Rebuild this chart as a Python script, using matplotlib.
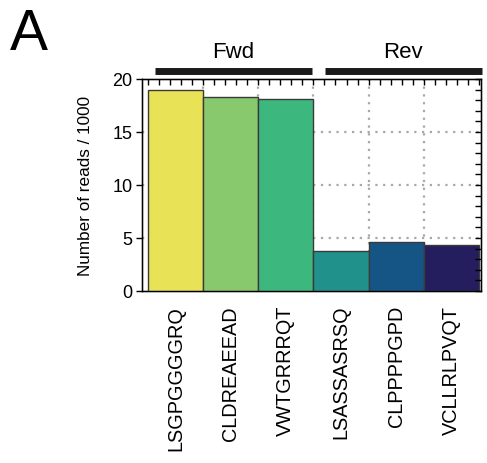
import matplotlib
matplotlib.use("Agg")
import matplotlib.pyplot as plt
import matplotlib.transforms as mtransforms
import numpy as np

plt.rcParams['font.family'] = ['Liberation Sans', 'DejaVu Sans']

categories = ["LSGPGGGGRQ", "CLDREAEEAD", "VWTGRRRQT", "LSASSASRSQ", "CLPPPPGPD", "VCLLRLPVQT"]
reads_k = [19.0, 18.27, 18.08, 3.74, 4.65, 4.37]
bar_colors = ["#e8e257", "#88c96d", "#3cb87e", "#21918c", "#145585", "#241d5e"]
groups = ["Fwd", "Rev"]
group_spans = [(-0.38, 2.47), (2.71, 5.55)]
y_ticks = [0, 5, 10, 15, 20]

fig = plt.figure(figsize=(4.87, 4.64), dpi=100)
ax = fig.add_axes([0.2916, 0.3707, 0.6961, 0.4569])

x = np.arange(len(categories))
ax.bar(x, reads_k, width=1.0, color=bar_colors, edgecolor="#3a3a3a", linewidth=1.0, zorder=3)

ax.set_xlim(-0.61, 5.54)
ax.set_ylim(0, 20)

# grid
for gx in np.arange(0.5, 5.0, 1.0):
    ax.axvline(gx, color="#a8a8a8", linestyle=(0, (1, 2.5)), linewidth=1.6, zorder=1)
for gy in [5, 10, 15]:
    ax.axhline(gy, color="#a8a8a8", linestyle=(0, (1, 2.5)), linewidth=1.6, zorder=1)

ax.set_xticks(x)
ax.set_xticklabels(categories, rotation=90, fontsize=14.3)
ax.set_yticks(y_ticks)
ax.set_yticklabels([str(v) for v in y_ticks], fontsize=13)
ax.tick_params(axis='x', direction='in', length=5, width=1, pad=10)
ax.tick_params(axis='y', direction='out', length=4, width=1, pad=3)
ax.set_ylabel("Number of reads / 1000", fontsize=12.3, labelpad=14)

for s in ax.spines.values():
    s.set_linewidth(1.0)

# top minor ticks
axt = ax.twiny()
axt.set_xlim(ax.get_xlim())
axt.set_xticks(np.arange(-0.5, 5.51, 0.2))
axt.set_xticklabels([])
axt.tick_params(axis='x', direction='in', length=4, width=1)

# right minor ticks
axr = ax.twinx()
axr.set_ylim(ax.get_ylim())
axr.set_yticks(np.arange(0, 20.1, 1))
axr.set_yticklabels([])
axr.tick_params(axis='y', direction='in', length=4, width=1)

# group bars
trans = mtransforms.blended_transform_factory(ax.transData, ax.transAxes)
for name, (x0, x1) in zip(groups, group_spans):
    ax.plot([x0, x1], [1.038, 1.038], color="#1a1a1a", linewidth=5, solid_capstyle='butt',
            transform=trans, clip_on=False)
    ax.text((x0 + x1) / 2, 1.08, name, fontsize=16, ha='center', va='bottom', transform=trans)

fig.text(0.02, 0.892, "A", fontsize=41, ha='left', va='baseline')

fig.savefig("out.png", dpi=100)
